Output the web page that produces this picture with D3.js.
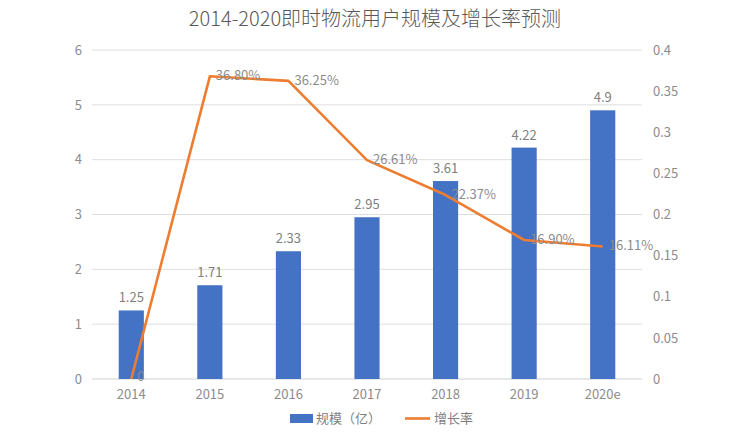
<!DOCTYPE html>
<html><head><meta charset="utf-8">
<script src="https://cdn.jsdelivr.net/npm/d3@7"></script>
<style>body{margin:0;background:#fff;} svg{display:block;}</style>
</head><body>
<svg id="c" width="750" height="436"></svg>
<script>
const categories = ["2014","2015","2016","2017","2018","2019","2020e"];
const scaleValues = [1.25,1.71,2.33,2.95,3.61,4.22,4.9];
const growthValues = [0,0.368,0.3625,0.2661,0.2237,0.169,0.1611];
const growthLabels = ["0","36.80%","36.25%","26.61%","22.37%","16.90%","16.11%"];
const leftTicks = [0,1,2,3,4,5,6];
const rightTicks = [0,0.05,0.1,0.15,0.2,0.25,0.3,0.35,0.4];
const seriesNames = ["规模（亿）","增长率"];
const titleText = "2014-2020即时物流用户规模及增长率预测";

const font = "'Noto Sans CJK SC','Noto Sans',sans-serif";
const svg = d3.select("#c");
const L = 92, R = 642, T = 50, B = 379;
const x = d3.scaleBand().domain(categories).range([L,R]).paddingInner(0.68).paddingOuter(0.34);
const xc = d => x(d) + x.bandwidth()/2;
const yL = d3.scaleLinear().domain([0,6]).range([B,T]);
const yR = d3.scaleLinear().domain([0,0.4]).range([B,T]);

svg.append("text").attr("x",375).attr("y",26).attr("text-anchor","middle")
  .attr("font-family",font).attr("font-size",20).attr("font-weight",300).attr("fill","#595959").text(titleText);

// grid
svg.append("g").selectAll("line").data(leftTicks).join("line")
  .attr("x1",L).attr("x2",R).attr("y1",d=>yL(d)).attr("y2",d=>yL(d))
  .attr("stroke",d=>d===0?"#d0d0d0":"#dedede").attr("stroke-width",1);

// left axis
const gl = svg.append("g").attr("transform",`translate(${L-10},0)`)
  .call(d3.axisLeft(yL).tickValues(leftTicks).tickSize(0).tickPadding(0).tickFormat(d3.format("d")));
gl.select(".domain").remove();
gl.selectAll("text").attr("font-family",font).attr("font-size",13).attr("fill","#8c8c8c");

// right axis
const gr = svg.append("g").attr("transform",`translate(${R+11},0)`)
  .call(d3.axisRight(yR).tickValues(rightTicks).tickSize(0).tickPadding(0).tickFormat(d=>String(+d.toFixed(2))));
gr.select(".domain").remove();
gr.selectAll("text").attr("font-family",font).attr("font-size",13).attr("fill","#8c8c8c");

// x axis
const gx = svg.append("g").attr("transform",`translate(0,${B})`)
  .call(d3.axisBottom(x).tickSize(0).tickPadding(11));
gx.select(".domain").remove();
gx.selectAll("text").attr("font-family",font).attr("font-size",13).attr("fill","#8c8c8c");

// bars
svg.append("g").selectAll("rect").data(categories).join("rect")
  .attr("x",d=>x(d)).attr("width",x.bandwidth())
  .attr("y",(d,i)=>yL(scaleValues[i])).attr("height",(d,i)=>B-yL(scaleValues[i]))
  .attr("fill","#4472C4");
svg.append("g").selectAll("text").data(categories).join("text")
  .attr("x",d=>xc(d)).attr("y",(d,i)=>yL(scaleValues[i])-8).attr("text-anchor","middle")
  .attr("font-family",font).attr("font-size",13).attr("fill","#7f7f7f")
  .text((d,i)=>scaleValues[i]);

// line
const line = d3.line().x((d,i)=>xc(categories[i])).y(d=>yR(d));
svg.append("path").datum(growthValues).attr("d",line).attr("fill","none")
  .attr("stroke","#ED7D31").attr("stroke-width",2.6).attr("stroke-linejoin","round");
svg.append("g").selectAll("text").data(growthValues).join("text")
  .attr("x",(d,i)=>xc(categories[i])+6).attr("y",d=>yR(d)+(d===0?2:4))
  .attr("font-family",font).attr("font-size",13).attr("fill","#8c8c8c")
  .text((d,i)=>growthLabels[i]);

// legend
const lg = svg.append("g").attr("font-family",font).attr("font-size",13).attr("fill","#7f7f7f");
lg.append("rect").attr("x",290).attr("y",414).attr("width",23).attr("height",9).attr("fill","#4472C4");
lg.append("text").attr("x",316).attr("y",423).text(seriesNames[0]);
lg.append("line").attr("x1",405).attr("x2",430).attr("y1",418.5).attr("y2",418.5).attr("stroke","#ED7D31").attr("stroke-width",2.6);
lg.append("text").attr("x",434).attr("y",423).text(seriesNames[1]);
</script>
</body></html>
